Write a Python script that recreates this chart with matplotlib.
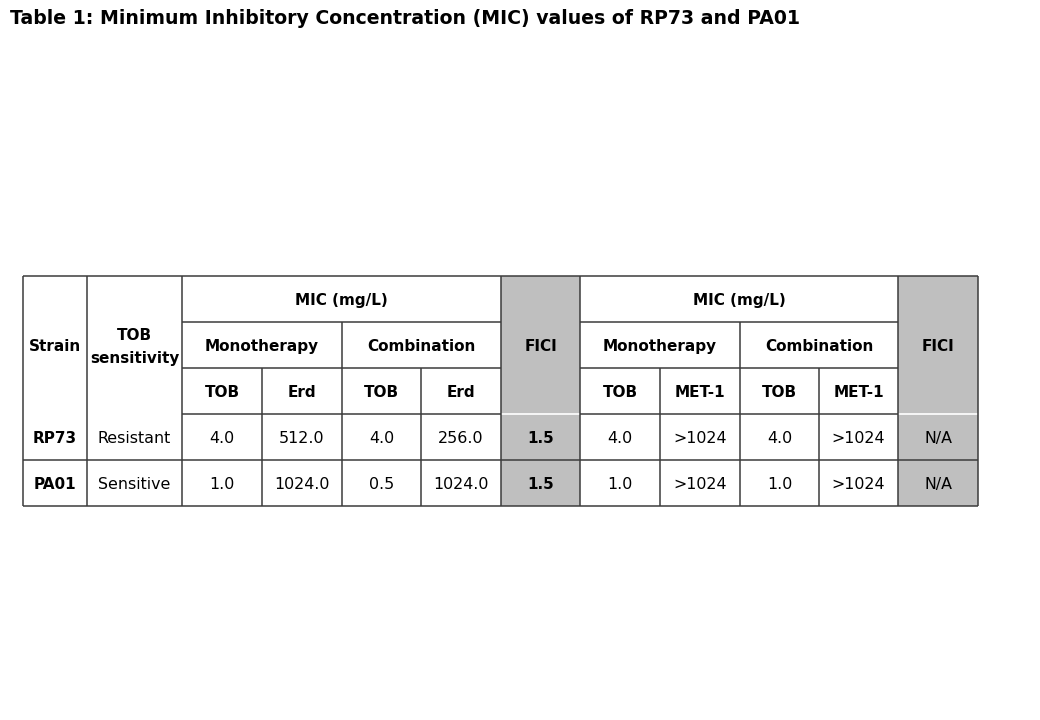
import matplotlib
matplotlib.use("Agg")
import matplotlib.pyplot as plt
from matplotlib.patches import Rectangle

# ---- data ----
title = "Table 1: Minimum Inhibitory Concentration (MIC) values of RP73 and PA01"
strains = ["RP73", "PA01"]
sensitivity = ["Resistant", "Sensitive"]
erd_mono_tob = ["4.0", "1.0"]
erd_mono_erd = ["512.0", "1024.0"]
erd_comb_tob = ["4.0", "0.5"]
erd_comb_erd = ["256.0", "1024.0"]
fici_erd = ["1.5", "1.5"]
met_mono_tob = ["4.0", "1.0"]
met_mono_met = [">1024", ">1024"]
met_comb_tob = ["4.0", "1.0"]
met_comb_met = [">1024", ">1024"]
fici_met = ["N/A", "N/A"]

sub_headers = ["TOB", "Erd", "TOB", "Erd", None, "TOB", "MET-1", "TOB", "MET-1"]

# ---- layout ----
W, H = 1040, 720
fig = plt.figure(figsize=(W / 100, H / 100), dpi=100)
ax = fig.add_axes([0, 0, 1, 1])
ax.set_xlim(0, W)
ax.set_ylim(H, 0)
ax.axis("off")

FONT = "DejaVu Sans"
FS = 11.0
FS_DATA = 11.4
LC = "#3c3c3c"
GRAY = "#bfbfbf"

xs = [23, 87, 182, 262, 342, 421, 501, 580, 660, 740, 819, 898, 978]
ys = [276, 322, 368, 414, 460, 506]

def cx(i, j=None):
    j = i + 1 if j is None else j
    return (xs[i] + xs[j]) / 2

def cy(i, j=None):
    j = i + 1 if j is None else j
    return (ys[i] + ys[j]) / 2

# gray columns
for c in (6, 11):
    ax.add_patch(Rectangle((xs[c], ys[0]), xs[c + 1] - xs[c], ys[5] - ys[0],
                           facecolor=GRAY, edgecolor="none", zorder=1))
    ax.plot([xs[c], xs[c + 1]], [ys[3], ys[3]], color="white", lw=1.2, zorder=2)

def hline(y, x0, x1):
    ax.plot([x0, x1], [y, y], color=LC, lw=1.1, zorder=3, solid_capstyle="butt")

def vline(x, y0, y1):
    ax.plot([x, x], [y0, y1], color=LC, lw=1.1, zorder=3, solid_capstyle="butt")

hline(ys[0], xs[0], xs[12])
for y in (ys[1], ys[2], ys[3]):
    hline(y, xs[2], xs[6])
    hline(y, xs[7], xs[11])
hline(ys[4], xs[0], xs[12])
hline(ys[5], xs[0], xs[12])

for i in (0, 1, 2, 6, 7, 11, 12):
    vline(xs[i], ys[0], ys[5])
for i in (4, 9):
    vline(xs[i], ys[1], ys[5])
for i in (3, 5, 8, 10):
    vline(xs[i], ys[2], ys[5])

def txt(x, y, s, bold=False, size=FS, gap=23):
    lines = s.split("\n")
    n = len(lines)
    for k, line in enumerate(lines):
        yy = y + (k - (n - 1) / 2) * gap
        ax.text(x, yy, line, ha="center", va="center_baseline", fontsize=size,
                family=FONT, fontweight="bold" if bold else "normal",
                color="#000000", zorder=4)

# headers
txt(cx(0), cy(0, 3), "Strain", bold=True)
txt(cx(1), cy(0, 3), "TOB\nsensitivity", bold=True)
txt(cx(2, 6), cy(0), "MIC (mg/L)", bold=True)
txt(cx(7, 11), cy(0), "MIC (mg/L)", bold=True)
txt(cx(2, 4), cy(1), "Monotherapy", bold=True)
txt(cx(4, 6), cy(1), "Combination", bold=True)
txt(cx(7, 9), cy(1), "Monotherapy", bold=True)
txt(cx(9, 11), cy(1), "Combination", bold=True)
txt(cx(6), cy(0, 3), "FICI", bold=True)
txt(cx(11), cy(0, 3), "FICI", bold=True)
for k, s in enumerate(sub_headers):
    if s is not None:
        txt(cx(2 + k), cy(2), s, bold=True)

# data rows
for r in range(len(strains)):
    y = cy(3 + r)
    row = [strains[r], sensitivity[r], erd_mono_tob[r], erd_mono_erd[r],
           erd_comb_tob[r], erd_comb_erd[r], fici_erd[r], met_mono_tob[r],
           met_mono_met[r], met_comb_tob[r], met_comb_met[r], fici_met[r]]
    for c, s in enumerate(row):
        b = (c == 0 or c == 6)
        txt(cx(c), y, s, bold=b, size=FS if b else FS_DATA)

ax.text(10, 19, title, ha="left", va="center", fontsize=13.6, family=FONT,
        fontweight="bold", color="#000000")

fig.savefig("out.png", dpi=100, facecolor="white")
